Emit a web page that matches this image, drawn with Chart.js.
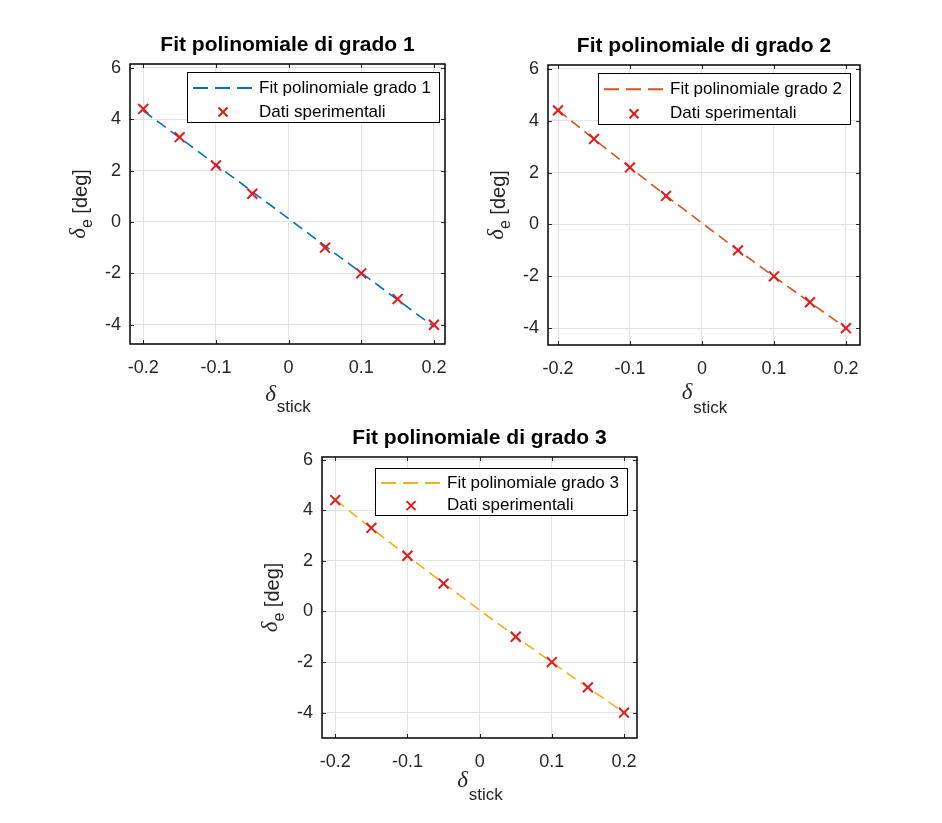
<!DOCTYPE html>
<html><head><meta charset="utf-8">
<script src="https://cdn.jsdelivr.net/npm/chart.js@4/dist/chart.umd.min.js"></script>
<style>
body{margin:0;background:#fff;width:942px;height:823px;position:relative;overflow:hidden}
canvas{position:absolute}
</style></head><body>
<canvas id="c1" width="415" height="413" style="left:50px;top:1px"></canvas>
<canvas id="c2" width="412" height="413" style="left:468px;top:2px"></canvas>
<canvas id="c3" width="415" height="414" style="left:242px;top:394px"></canvas>
<script>
// ---- data ----
const xData = [-0.2, -0.15, -0.1, -0.05, 0.05, 0.1, 0.15, 0.2];
const yData = [4.4, 3.3, 2.2, 1.1, -1.0, -2.0, -3.0, -4.0];
const xFit = [-0.2, -0.15, -0.1, -0.05, 0, 0.05, 0.1, 0.15, 0.2];
const yFit1 = [4.33, 3.28, 2.23, 1.18, 0.13, -0.93, -1.98, -3.03, -4.08];
const yFit2 = [4.41, 3.29, 2.19, 1.11, 0.05, -0.99, -2.01, -3.01, -3.99];
const yFit3 = [4.41, 3.29, 2.19, 1.11, 0.05, -0.99, -2.01, -3.01, -3.99];
const xTicks = [-0.2, -0.1, 0, 0.1, 0.2];
const yTicks = [-4, -2, 0, 2, 4, 6];
const titles = ['Fit polinomiale di grado 1', 'Fit polinomiale di grado 2', 'Fit polinomiale di grado 3'];
const fitLabels = ['Fit polinomiale grado 1', 'Fit polinomiale grado 2', 'Fit polinomiale grado 3'];
const dataLabel = 'Dati sperimentali';
const yTitleMain = 'δ', yTitleSub = 'e', yTitleRest = ' [deg]';
const xTitleMain = 'δ', xTitleSub = 'stick';

const fitColors = ['#0072BD', '#D95319', '#EDB120'];
const markerColor = '#e31a1c';
const SANS = "'Liberation Sans', Arial, sans-serif";
const SERIF = "'Liberation Serif', 'Times New Roman', serif";

const matlabPlugin = {
  id: 'matlab',
  afterDatasetsDraw(chart, args, o) {
    const {ctx, chartArea: a, scales: {x, y}} = chart;
    ctx.save();
    const ln = (x1, y1, x2, y2) => { ctx.beginPath(); ctx.moveTo(x1, y1); ctx.lineTo(x2, y2); ctx.stroke(); };
    // inward ticks
    ctx.strokeStyle = '#262626'; ctx.lineWidth = 1;
    x.ticks.forEach(t => { const p = Math.round(x.getPixelForValue(t.value)) + 0.5; ln(p, a.bottom, p, a.bottom - 4); ln(p, a.top, p, a.top + 4); });
    y.ticks.forEach(t => { const p = Math.round(y.getPixelForValue(t.value)) + 0.5; ln(a.left, p, a.left + 4, p); ln(a.right, p, a.right - 4, p); });
    // box
    ctx.strokeStyle = '#000'; ctx.lineWidth = 1.5;
    ctx.strokeRect(a.left, a.top, a.right - a.left, a.bottom - a.top);

    // legend
    const ds = chart.data.datasets;
    const lf = '17px ' + SANS;
    ctx.font = lf;
    const tw = Math.max(...ds.map(d => ctx.measureText(d.label).width));
    const bw = 72 + tw + 8, bh = o.legH;
    const bx = a.right - o.legRight - bw, by = a.top + o.legTop;
    ctx.fillStyle = '#fff'; ctx.fillRect(bx, by, bw, bh);
    ctx.strokeStyle = '#000'; ctx.lineWidth = 1;
    ctx.strokeRect(Math.round(bx) + 0.5, Math.round(by) + 0.5, Math.round(bw), Math.round(bh));
    const fitDs = ds.find(d => d.showLine), ptDs = ds.find(d => !d.showLine);
    const r1 = by + bh * 0.32, r2 = by + bh * 0.8;
    ctx.strokeStyle = fitDs.borderColor; ctx.lineWidth = 2; ctx.setLineDash([15, 7]);
    ln(bx + 6, r1, bx + 70, r1);
    ctx.setLineDash([]);
    ctx.strokeStyle = markerColor; ctx.lineWidth = 2;
    const mx = bx + 36, s = 4.5;
    ln(mx - s, r2 - s, mx + s, r2 + s); ln(mx - s, r2 + s, mx + s, r2 - s);
    ctx.fillStyle = '#000'; ctx.textBaseline = 'middle'; ctx.textAlign = 'left';
    ctx.fillText(fitDs.label, bx + 72, r1);
    ctx.fillText(ptDs.label, bx + 72, r2);

    // y title
    ctx.fillStyle = '#262626';
    ctx.save();
    ctx.translate(a.left - 49, (a.top + a.bottom) / 2);
    ctx.rotate(-Math.PI / 2);
    const fMain = 'italic 23px ' + SERIF, fSub = '16px ' + SANS, fRest = '20px ' + SANS;
    ctx.font = fMain; const w1 = ctx.measureText(yTitleMain).width;
    ctx.font = fSub; const w2 = ctx.measureText(yTitleSub).width;
    ctx.font = fRest; const w3 = ctx.measureText(yTitleRest).width;
    let sx = -(w1 + w2 + w3) / 2;
    ctx.font = fMain; ctx.fillText(yTitleMain, sx, -2); sx += w1;
    ctx.font = fSub; ctx.fillText(yTitleSub, sx, 7); sx += w2;
    ctx.font = fRest; ctx.fillText(yTitleRest, sx, 0);
    ctx.restore();

    // x title
    const fxSub = '17px ' + SANS;
    ctx.font = fMain; const v1 = ctx.measureText(xTitleMain).width;
    ctx.font = fxSub; const v2 = ctx.measureText(xTitleSub).width;
    let cx = (a.left + a.right) / 2 - (v1 + v2) / 2;
    ctx.font = fMain; ctx.fillText(xTitleMain, cx, a.bottom + o.xD); cx += v1 + 1;
    ctx.font = fxSub; ctx.fillText(xTitleSub, cx, a.bottom + o.xS);
    ctx.restore();
  }
};

function makeChart(id, idx, yFit, xr, yr, leg, xt) {
  const fitPts = xFit.map((v, i) => ({x: v, y: yFit[i]}));
  const dataPts = xData.map((v, i) => ({x: v, y: yData[i]}));
  return new Chart(document.getElementById(id), {
    type: 'scatter',
    data: {
      datasets: [
        {label: fitLabels[idx], data: fitPts, showLine: true, borderColor: fitColors[idx],
         borderWidth: 1.6, borderDash: [11, 6], pointRadius: 0, fill: false, order: 2},
        {label: dataLabel, data: dataPts, pointStyle: 'crossRot', pointRadius: 7,
         pointBorderWidth: 2, borderColor: markerColor, backgroundColor: markerColor, order: 1}
      ]
    },
    options: {
      responsive: false, animation: false,
      layout: {padding: {left: 0, right: 20, top: 0, bottom: 0}},
      plugins: {
        legend: {display: false}, tooltip: {enabled: false},
        title: {display: true, fullSize: false, text: titles[idx], color: '#000',
          font: {family: SANS, size: 21, weight: 'bold', lineHeight: '22px'},
          padding: {top: 33, bottom: 8}},
        matlab: {legRight: leg[0], legTop: leg[1], legH: leg[2], xD: xt[0], xS: xt[1]}
      },
      scales: {
        x: {type: 'linear', min: xr[0], max: xr[1],
          afterBuildTicks: s => { s.ticks = xTicks.map(v => ({value: v})); },
          afterFit: s => { s.height = 70; },
          ticks: {color: '#262626', padding: 13, font: {family: SANS, size: 18}, callback: v => String(v)},
          grid: {color: '#e3e3e3', drawTicks: false}, border: {display: false}},
        y: {type: 'linear', min: yr[0], max: yr[1],
          afterBuildTicks: s => { s.ticks = yTicks.map(v => ({value: v})); },
          afterFit: s => { s.width = 80; },
          ticks: {color: '#262626', padding: 9, font: {family: SANS, size: 18}, callback: v => String(v)},
          grid: {color: '#e3e3e3', drawTicks: false}, border: {display: false}}
      }
    },
    plugins: [matlabPlugin]
  });
}

makeChart('c1', 0, yFit1, [-0.2183, 0.2152], [-4.75, 6.15], [6, 8, 50], [51, 63]);
makeChart('c2', 1, yFit2, [-0.2139, 0.2195], [-4.65, 6.15], [10, 8, 51], [48, 63]);
makeChart('c3', 2, yFit3, [-0.2184, 0.218], [-5.0, 6.1], [10, 11, 47], [43, 57]);
</script>
</body></html>
